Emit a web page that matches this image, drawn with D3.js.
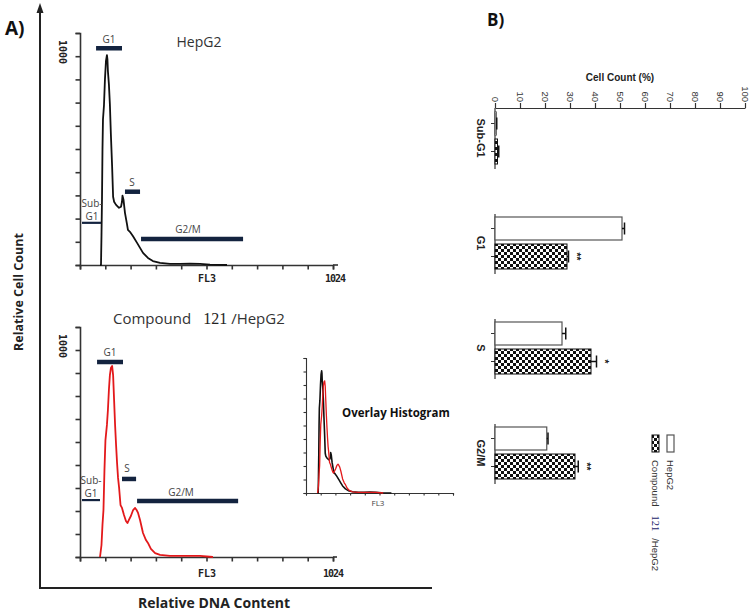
<!DOCTYPE html>
<html><head><meta charset="utf-8">
<script src="https://cdn.jsdelivr.net/npm/d3@7"></script>
<style>body{margin:0;background:#fff}svg{display:block}</style>
</head><body><svg id="c" width="754" height="614"></svg>
<script>
// ---------- Panel A data (flow cytometry histograms, channel 0-1024 vs count) ----------
const hepg2Channels = [81,85,87,89,91,93,97,101,105,109,111,113,117,121,125,130,134,138,146,158,166,170,172,176,182,190,194,202,214,231,243,255,275,295,324,364,405,445,486,526,595];
const hepg2Counts   = [0,0,144,312,553,697,764,889,976,1005,986,928,865,769,625,471,327,303,288,274,279,303,332,313,250,197,168,159,139,106,82,58,34,19,10,5,5,7,5,2,0];
const compoundChannels = [81,87,91,95,99,103,109,113,117,121,125,130,134,138,142,146,150,154,158,164,170,178,186,192,198,206,215,223,229,235,243,255,267,275,287,304,324,364,425,486,538];
const compoundCounts   = [0,58,155,227,420,565,638,710,807,879,913,923,879,758,638,541,454,382,338,251,237,203,174,164,179,198,227,237,227,213,179,116,82,68,39,19,10,5,5,5,0];
const histTickLabels = ["1000","FL3","1024"];
// gates: [name, start channel, end channel, level (count)]
const hepg2GateNames = ["Sub-G1","G1","S","G2/M"];
const hepg2GateStart = [8,65,182,247];
const hepg2GateEnd   = [85,170,243,660];
const hepg2GateLevel = [202,1038,351,125];
const compoundGateStart = [8,69,170,231];
const compoundGateEnd   = [81,174,227,640];
const compoundGateLevel = [275,942,377,271];

// ---------- Panel B data ----------
const phases = ["Sub-G1","G1","S","G2/M"];
const hepg2Pct = [0.5,50.8,26.8,20.7];
const hepg2Err = [0.2,1.0,1.5,0.5];
const compoundPct = [1.0,28.8,38.4,32.0];
const compoundErr = [0.5,0.6,2.2,1.3];
const significance = ["","**","*","**"];
const pctTicks = [0,10,20,30,40,50,60,70,80,90,100];
const legendLabels = ["HepG2","Compound 121 /HepG2"];

const svg = d3.select("#c");
const defs = svg.append("defs");
const pat = defs.append("pattern").attr("id","checker").attr("width",6).attr("height",6).attr("patternUnits","userSpaceOnUse");
pat.append("rect").attr("width",6).attr("height",6).attr("fill","#fff");
pat.append("rect").attr("width",3).attr("height",3).attr("fill","#111");
pat.append("rect").attr("x",3).attr("y",3).attr("width",3).attr("height",3).attr("fill","#111");

const sansA = "'Open Sans', 'Noto Sans', sans-serif";
const arial = "'Liberation Sans', Arial, sans-serif";
const navy = "#13233f";
const mono = "'DejaVu Sans Mono', monospace";

// ---------- Panel A frame ----------
svg.append("text").attr("x",5).attr("y",35).attr("font-family",sansA).attr("font-weight","bold").attr("font-size",19).attr("fill","#111").text("A)");
svg.append("line").attr("x1",40).attr("x2",40).attr("y1",10).attr("y2",589).attr("stroke","#222").attr("stroke-width",2);
svg.append("path").attr("d","M40,3 L36.5,13 L43.5,13 Z").attr("fill","#222");
svg.append("line").attr("x1",39).attr("x2",432).attr("y1",588).attr("y2",588).attr("stroke","#222").attr("stroke-width",2);
svg.append("text").attr("transform","translate(23,292) rotate(-90)").attr("text-anchor","middle").attr("font-family",sansA).attr("font-weight","bold").attr("font-size",12.5).attr("fill","#222").text("Relative Cell Count");
svg.append("text").attr("x",214).attr("y",608).attr("text-anchor","middle").attr("font-family",sansA).attr("font-weight","bold").attr("font-size",14).attr("fill","#222").text("Relative DNA Content");

const yTicks = d3.range(0,11).map(i => i*1000/9);
const xTicks = d3.range(0,11).map(i => i*102.4);

function histogram(opts){
  const x = d3.scaleLinear().domain([0,1024]).range(opts.xr);
  const y = d3.scaleLinear().domain([0,10000/9]).range(opts.yr);
  const g = svg.append("g");
  const ax = g.append("g").attr("transform",`translate(${opts.xr[0]},0)`).call(d3.axisLeft(y).tickValues(yTicks).tickFormat("").tickSizeOuter(0).tickSize(opts.tick));
  const bx = g.append("g").attr("transform",`translate(0,${opts.yr[0]})`).call(d3.axisBottom(x).tickValues(xTicks).tickFormat("").tickSizeOuter(0).tickSize(opts.tick));
  [ax,bx].forEach(a=>{a.selectAll("path,line").attr("stroke","#333").attr("stroke-width",opts.sw);});
  g.append("line").attr("x1",opts.xr[1]).attr("x2",opts.xr[1]+opts.ext).attr("y1",opts.yr[0]).attr("y2",opts.yr[0]).attr("stroke","#333").attr("stroke-width",opts.sw);
  const line = d3.line().x(d=>x(d[0])).y(d=>y(d[1]));
  opts.series.forEach(s=>{
    g.append("path").datum(d3.zip(s.ch,s.ct)).attr("d",line).attr("fill","none").attr("stroke",s.color).attr("stroke-width",s.w).attr("stroke-linejoin","round");
  });
  return {x,y,g};
}

function gates(h, names, st, en, lv, labels){
  names.forEach((n,i)=>{
    const thick = n==="Sub-G1"?2.2:4.5;
    h.g.append("line").attr("x1",h.x(st[i])).attr("x2",h.x(en[i])).attr("y1",h.y(lv[i])).attr("y2",h.y(lv[i])).attr("stroke",navy).attr("stroke-width",thick);
  });
  labels.forEach(l=>{
    h.g.append("text").attr("x",l[1]).attr("y",l[2]).attr("text-anchor","middle").attr("font-family",sansA).attr("font-size",10).attr("fill","#444").text(l[0]);
  });
}

// Top: HepG2
const hTop = histogram({xr:[80,333],yr:[265,33],tick:4.5,sw:1.6,ext:5,series:[{ch:hepg2Channels,ct:hepg2Counts,color:"#111",w:1.8}]});
gates(hTop,hepg2GateNames,hepg2GateStart,hepg2GateEnd,hepg2GateLevel,[["G1",109,43],["S",132,186],["Sub-",92,207],["G1",92,220],["G2/M",188,233]]);
svg.append("text").attr("x",199).attr("y",47).attr("text-anchor","middle").attr("font-family",sansA).attr("font-size",14).attr("fill","#333").text("HepG2");
svg.append("text").attr("transform","translate(62,52) rotate(90)").attr("text-anchor","middle").attr("dominant-baseline","central").attr("font-family",mono).attr("font-weight","bold").attr("font-size",10).attr("fill","#222").text(histTickLabels[0]);
svg.append("text").attr("x",207).attr("y",282).attr("text-anchor","middle").attr("font-family",mono).attr("font-weight","bold").attr("font-size",10).attr("fill","#222").text(histTickLabels[1]);
svg.append("text").attr("x",335).attr("y",282).attr("text-anchor","middle").attr("font-family",mono).attr("font-weight","bold").attr("font-size",10).attr("letter-spacing",-1).attr("fill","#222").text(histTickLabels[2]);

// Bottom: Compound 121 / HepG2
const hBot = histogram({xr:[80,333],yr:[557,327],tick:4.5,sw:1.6,ext:4,series:[{ch:compoundChannels,ct:compoundCounts,color:"#e3191b",w:1.8}]});
gates(hBot,hepg2GateNames,compoundGateStart,compoundGateEnd,compoundGateLevel,[["G1",110,356],["S",127,472],["Sub-",91,484],["G1",91,497],["G2/M",181,496]]);
const ct = svg.append("text").attr("x",113).attr("y",324).attr("font-family",sansA).attr("font-size",15).attr("fill","#333");
ct.append("tspan").text("Compound");
ct.append("tspan").attr("dx",12).attr("font-family","'Liberation Serif', serif").attr("font-size",16).attr("fill","#222").text("121");
ct.append("tspan").attr("dx",4).text("/HepG2");
svg.append("text").attr("transform","translate(62,346) rotate(90)").attr("text-anchor","middle").attr("dominant-baseline","central").attr("font-family",mono).attr("font-weight","bold").attr("font-size",10).attr("fill","#222").text(histTickLabels[0]);
svg.append("text").attr("x",207).attr("y",577).attr("text-anchor","middle").attr("font-family",mono).attr("font-weight","bold").attr("font-size",10).attr("fill","#222").text(histTickLabels[1]);
svg.append("text").attr("x",333).attr("y",577).attr("text-anchor","middle").attr("font-family",mono).attr("font-weight","bold").attr("font-size",10).attr("letter-spacing",-1).attr("fill","#222").text(histTickLabels[2]);

// Inset overlay
histogram({xr:[306,453],yr:[493,358],tick:2.5,sw:1.1,ext:0,series:[
  {ch:hepg2Channels,ct:hepg2Counts,color:"#111",w:1.6},
  {ch:compoundChannels,ct:compoundCounts,color:"#e3191b",w:1.3}]});
svg.append("text").attr("x",342).attr("y",417).attr("font-family",sansA).attr("font-weight","bold").attr("font-size",11.5).attr("fill","#111").text("Overlay Histogram");
svg.append("text").attr("x",378).attr("y",506).attr("text-anchor","middle").attr("font-family",sansA).attr("font-size",8).attr("fill","#444").text("FL3");

// ---------- Panel B (rotated bar chart) ----------
svg.append("text").attr("x",487).attr("y",26).attr("font-family",sansA).attr("font-weight","bold").attr("font-size",17).attr("fill","#111").text("B)");
const bx = d3.scaleLinear().domain([0,100]).range([495,745]);
const by = d3.scaleBand().domain(phases).range([85.5,505.5]);
const B = svg.append("g");
const topAx = B.append("g").attr("transform","translate(0,108)").call(d3.axisTop(bx).tickValues(pctTicks).tickSize(5).tickSizeOuter(0).tickFormat(""));
topAx.selectAll("path,line").attr("stroke","#333").attr("stroke-width",1.2);
topAx.selectAll(".tick").append("text").attr("transform","translate(0,-6) rotate(90)").attr("text-anchor","end").attr("dominant-baseline","central").attr("font-family",arial).attr("font-size",9.5).attr("fill","#333").text(d=>d);
B.append("text").attr("x",620).attr("y",81).attr("text-anchor","middle").attr("font-family",arial).attr("font-weight","bold").attr("font-size",10).attr("fill","#222").text("Cell Count (%)");

phases.forEach((p,i)=>{
  const c = by(p)+by.bandwidth()/2;
  const y0 = i===0?108:c-29;
  B.append("line").attr("x1",495).attr("x2",495).attr("y1",y0).attr("y2",c+31).attr("stroke","#333").attr("stroke-width",1.2);
  [c-14.5,c+13.5].forEach(t=>B.append("line").attr("x1",491).attr("x2",495).attr("y1",t).attr("y2",t).attr("stroke","#333").attr("stroke-width",1));
  B.append("text").attr("transform",`translate(481,${c}) rotate(90)`).attr("text-anchor","middle").attr("dominant-baseline","central").attr("font-family",arial).attr("font-weight","bold").attr("font-size",11).attr("fill","#222").text(p);
  B.append("rect").attr("x",bx(0)).attr("y",c-26).attr("width",bx(hepg2Pct[i])-bx(0)).attr("height",23).attr("fill","#fff").attr("stroke","#555").attr("stroke-width",1.2);
  B.append("rect").attr("x",bx(0)).attr("y",c+1).attr("width",bx(compoundPct[i])-bx(0)).attr("height",25).attr("fill","url(#checker)").attr("stroke","#111").attr("stroke-width",1);
  [[hepg2Pct[i],hepg2Err[i],c-14.5],[compoundPct[i],compoundErr[i],c+13.5]].forEach(e=>{
    B.append("line").attr("x1",bx(e[0])).attr("x2",bx(e[0]+e[1])).attr("y1",e[2]).attr("y2",e[2]).attr("stroke","#111").attr("stroke-width",1.5);
    B.append("line").attr("x1",bx(e[0]+e[1])).attr("x2",bx(e[0]+e[1])).attr("y1",e[2]-6).attr("y2",e[2]+6).attr("stroke","#111").attr("stroke-width",1.5);
  });
  if(significance[i]){
    B.append("text").attr("transform",`translate(${bx(compoundPct[i]+compoundErr[i])+8},${c+13.5}) rotate(90)`).attr("text-anchor","middle").attr("dominant-baseline","central").attr("font-family",arial).attr("font-weight","bold").attr("font-size",10).attr("fill","#222").text(significance[i]);
  }
});

// legend
B.append("rect").attr("x",667).attr("y",435).attr("width",7).attr("height",17).attr("fill","#fff").attr("stroke","#555").attr("stroke-width",1.2);
B.append("rect").attr("x",652).attr("y",435).attr("width",7).attr("height",17).attr("fill","url(#checker)").attr("stroke","#111").attr("stroke-width",1);
B.append("text").attr("transform","translate(670.5,460) rotate(90)").attr("dominant-baseline","central").attr("font-family",arial).attr("font-size",9.5).attr("fill","#333").text(legendLabels[0]);
const lt = B.append("text").attr("transform","translate(655.5,460) rotate(90)").attr("dominant-baseline","central").attr("font-family",arial).attr("font-size",9.5).attr("fill","#333");
lt.append("tspan").text("Compound");
lt.append("tspan").attr("dx",9).attr("font-family","'Liberation Serif', serif").attr("font-size",10.5).attr("fill","#1c1c6a").text("121");
lt.append("tspan").attr("dx",7).text("/HepG2");
</script></body></html>
